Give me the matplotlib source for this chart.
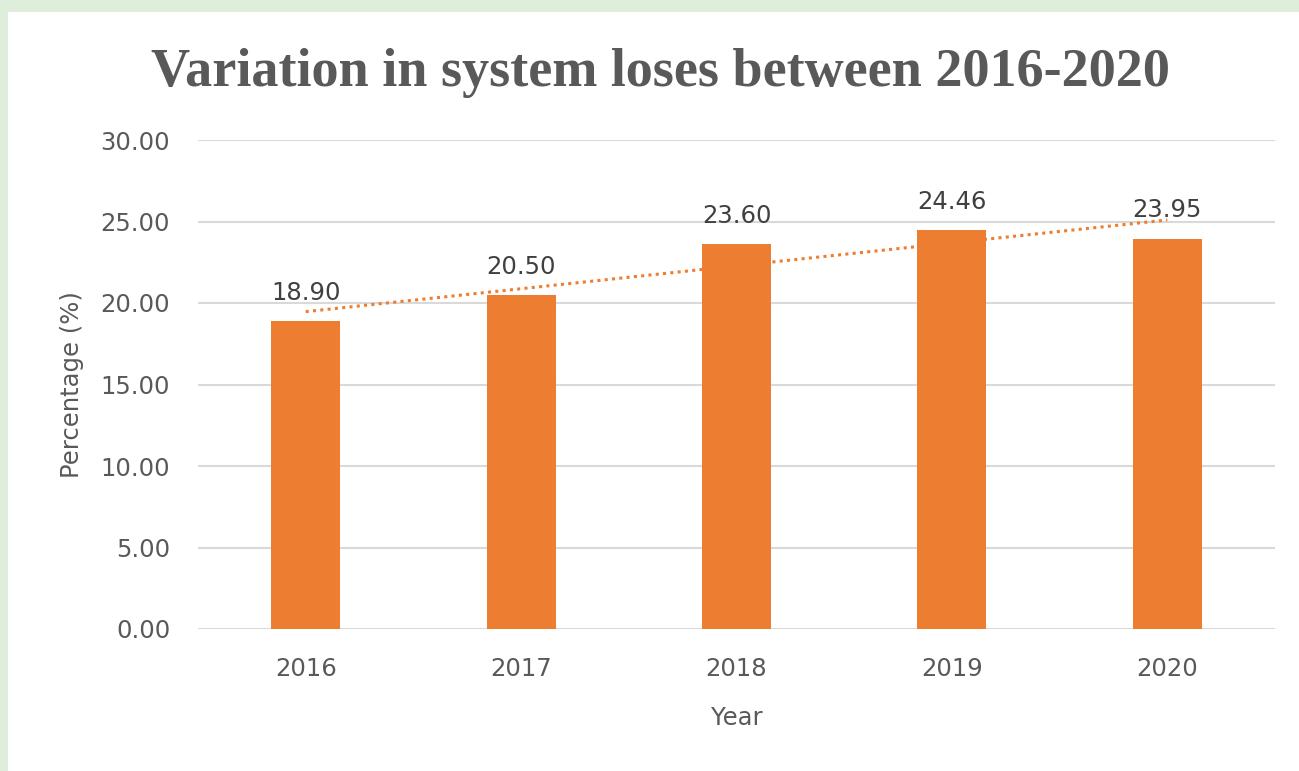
import matplotlib
matplotlib.use("Agg")
import matplotlib.pyplot as plt
from matplotlib.patches import Rectangle
import numpy as np

years = ["2016", "2017", "2018", "2019", "2020"]
losses = [18.90, 20.50, 23.60, 24.46, 23.95]
yticks = [0, 5, 10, 15, 20, 25, 30]

W, H = 1299, 771
fig = plt.figure(figsize=(W / 100, H / 100), dpi=100)
fig.patch.set_facecolor("#deeedb")
fig.patches.append(Rectangle((8 / W, 0), 1 - 8 / W, 1 - 12 / H, transform=fig.transFigure,
                             facecolor="white", edgecolor="none", zorder=-5))

ax = fig.add_axes([198 / W, 1 - 629 / H, (1275 - 198) / W, (629 - 140) / H])
ax.set_facecolor("none")

x = np.arange(len(years))
orange = "#ED7D31"
grey = "#595959"
tick_font = "DejaVu Sans"
fs = 17.5

ax.bar(x, losses, width=0.32, color=orange, zorder=3)

# linear trendline
coef = np.polyfit(x, losses, 1)
ax.plot(x, np.polyval(coef, x), linestyle=(0, (1, 1.4)), color=orange, lw=2.2, zorder=4)

for xi, v in zip(x, losses):
    ax.text(xi, v + 1.0, f"{v:.2f}", ha="center", va="bottom", fontsize=fs,
            color="#404040", family=tick_font, zorder=5)

ax.set_xlim(-0.5, len(years) - 0.5)
ax.set_ylim(0, 30)
ax.set_yticks(yticks)
ax.set_yticklabels([f"{t:.2f}" for t in yticks])
ax.set_xticks(x)
ax.set_xticklabels(years)
ax.grid(axis="y", color="#d9d9d9", lw=1.5, zorder=0)
for s in ax.spines.values():
    s.set_visible(False)
ax.tick_params(axis="both", length=0, labelsize=fs, labelcolor=grey)
ax.tick_params(axis="y", pad=20)
ax.tick_params(axis="x", pad=20)
for lab in ax.get_xticklabels() + ax.get_yticklabels():
    lab.set_family(tick_font)

ax.set_ylabel("Percentage (%)", fontsize=fs, color=grey, family=tick_font, labelpad=12)
ax.set_xlabel("Year", fontsize=fs, color=grey, family=tick_font, labelpad=18)

fig.text(660 / W, 1 - 73 / H, "Variation in system loses between 2016-2020", ha="center", va="center",
         fontsize=39, fontweight="bold", family="Liberation Serif", color=grey)

fig.savefig("out.png", dpi=100, facecolor=fig.get_facecolor())
